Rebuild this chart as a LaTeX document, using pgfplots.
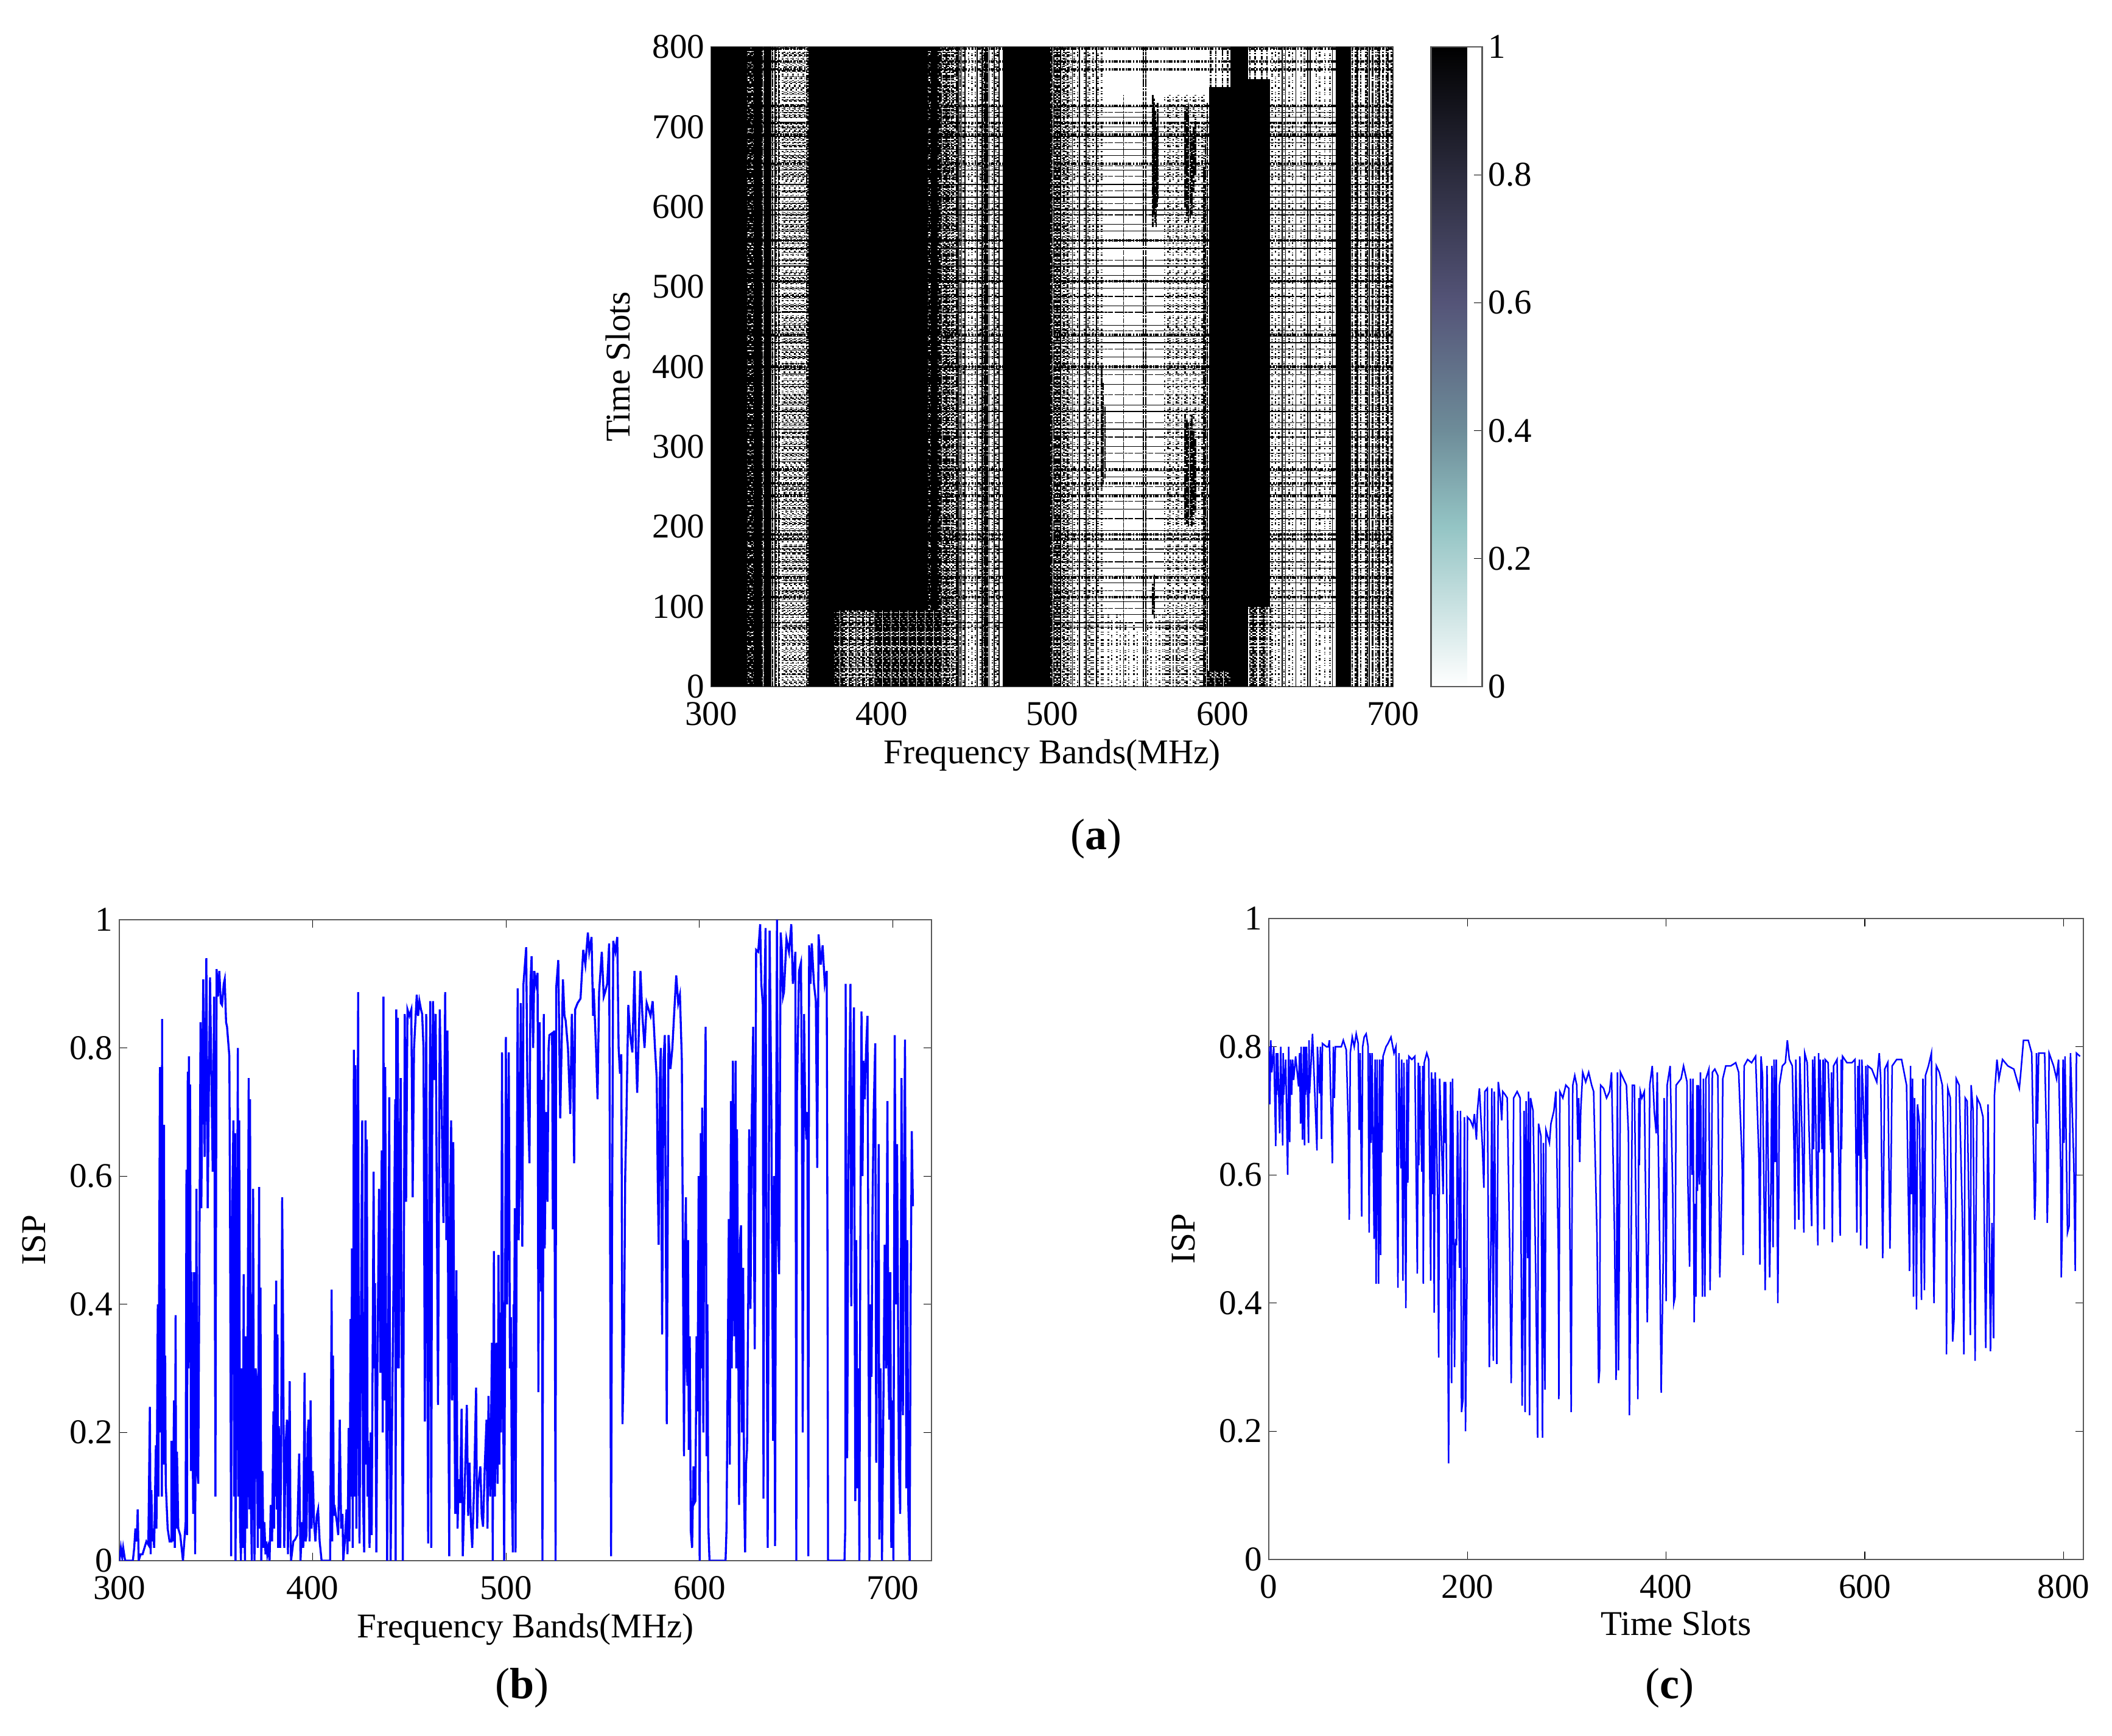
\documentclass[border=0pt]{standalone}
\usepackage{fontspec}
\setmainfont{Liberation Serif}
\usepackage{pgfplots}
\pgfplotsset{compat=1.18}

% 1 reference pixel = 0.24pt
\pgfplotsset{
  colormap={bonerev}{rgb(0pt)=(1,1,1) rgb(25pt)=(.58,.77,.77) rgb(40pt)=(.43,.55,.60) rgb(60pt)=(.33,.33,.47) rgb(80pt)=(.17,.17,.24) rgb(100pt)=(0,0,0)},
  matlab/.style={
    scale only axis, anchor=south west,
    tick align=inside, major tick length=3.2pt,
    tick style={draw=black, line width=.3pt},
    axis line style={draw=black!65, line width=.6pt},
    /pgf/number format/assume math mode=true,
    /pgf/number format/fixed, /pgf/number format/precision=1,
    tick label style={font=\fontsize{13.7}{16}\selectfont},
    label style={font=\fontsize{13.7}{16}\selectfont},
    xticklabel style={yshift=-2.6pt},
    yticklabel style={xshift=1pt},
  },
  vert/.style={ycomb, no marks, black, line width=.62pt},
  hori/.style={xcomb, no marks, black},
  block/.style={fill=black, draw=none, no marks},
  seg/.style={no marks, black, line width=.62pt, unbounded coords=jump},
  s1/.style={dash pattern=on .3pt off .6pt on .2pt off 1.3pt on .5pt off .4pt on .3pt off .9pt on .7pt off 1.6pt},
  s2/.style={dash pattern=on .5pt off 1pt on .3pt off .35pt on .3pt off 2pt on .9pt off .6pt},
  s3/.style={dash pattern=on .25pt off .8pt on .6pt off .3pt on .25pt off 1.5pt on .3pt off .5pt},
  m1/.style={dash pattern=on .9pt off .5pt on .4pt off .3pt on 1.5pt off .7pt on .5pt off .6pt},
  m2/.style={dash pattern=on 1.4pt off .4pt on .5pt off .7pt on .8pt off .35pt on 1.1pt off .8pt},
  d1/.style={dash pattern=on 2.1pt off .3pt on .9pt off .35pt on 3.3pt off .3pt on 1.4pt off .3pt},
  d2/.style={dash pattern=on 1.2pt off .3pt on 2.8pt off .5pt on .7pt off .3pt on 4.1pt off .3pt},
  d3/.style={dash pattern=on 3.7pt off .35pt on 1.1pt off .3pt on 1.9pt off .6pt},
}

\begin{document}
\begin{tikzpicture}
\path[use as bounding box] (0,0) rectangle (832.56pt,684.48pt);

% (a) occupancy map
\begin{axis}[matlab, at={(280.32pt,413.76pt)}, width=268.8pt, height=252.24pt,
  xmin=300, xmax=700, ymin=0, ymax=800,
  xtick={300,400,...,700}, ytick={0,100,...,800},
  xlabel={Frequency Bands(MHz)}, ylabel={Time Slots},
  xlabel style={yshift=1.4pt}, ylabel style={yshift=2pt},
  colormap name=bonerev, point meta min=0, point meta max=1, colorbar,
  colorbar style={at={(parent axis.south east)}, anchor=south west, xshift=6.4pt,
    width=20.16pt, height=252.24pt, ytick={0,.2,...,1}, ytick pos=right,
    yticklabel pos=right, tick align=inside, major tick length=3.2pt,
    axis line style={draw=black!65, line width=.6pt},
    yticklabel style={font=\fontsize{13.7}{16}\selectfont, /pgf/number format/assume math mode=true, /pgf/number format/fixed, /pgf/number format/precision=1, xshift=-1pt}},
]
% horizontal lines, slots that are busy over the whole band
\addplot[hori, line width=.3pt] coordinates {(700,725)(700,712)(700,700)(700,688)(700,672)(700,664)(700,646)(700,628)(700,612)(700,596)(700,578)(700,570)(700,548)(700,526)(700,514)(700,498)(700,476)(700,452)(700,438)(700,430)(700,412)(700,396)(700,378)(700,352)(700,344)(700,322)(700,300)(700,281)(700,262)(700,240)(700,222)(700,195)(700,183)(700,168)(700,148)(700,130)(700,106)(700,90)};
\addplot[hori, d3, line width=.32pt] coordinates {(700,718)(700,694)(700,680)(700,651)(700,638)(700,620)(700,604)(700,590)(700,558)(700,533)(700,507)(700,488)(700,468)(700,445)(700,422)(700,400)(700,390)(700,365)(700,330)(700,312)(700,292)(700,270)(700,250)(700,232)(700,210)(700,190)(700,172)(700,156)(700,138)(700,120)(700,112)(700,98)(700,80)(700,74)};
\addplot[hori, m1, line width=1pt] coordinates {(700,798)(700,782)(700,772)(700,726)(700,705)(700,690)(700,654)(700,558)(700,507)(700,440)(700,400)(700,272)(700,254)(700,238)(700,190)(700,184)(700,136)(700,112)};
% sparse vertical speckle
\addplot[vert, s1] coordinates {(342,800)(345,800)(348,800)(351,800)(354,800)(443,800)(451,800)(458,800)(465,800)(503,800)(508,800)(513,800)(519,800)(524,800)(529,800)(566,740)(571,740)(576,740)(581,740)(586,740)(629,800)(633,800)(641,800)(648,800)(655,800)};
\addplot[vert, s2] coordinates {(343,800)(346,800)(349,800)(352,800)(355,800)(448,800)(455,800)(462,800)(468,800)(505,800)(510,800)(515,800)(521,800)(526,800)(568,740)(573,740)(578,740)(583,740)(588,740)(631,800)(639,800)(646,800)(657,800)};
\addplot[vert, s3] coordinates {(344,800)(347,800)(350,800)(353,800)(356,800)(444,800)(453,800)(460,800)(467,800)(506,800)(511,800)(516,800)(522,800)(527,800)(569,740)(574,740)(579,740)(584,740)(589,740)(636,800)(660,800)(663,800)};
% bottom of the map is broken up into dots
\addplot[vert, s1] coordinates {(505,90)(508,90)(511,90)(519,90)(523,90)(530,90)(533,90)(538,90)(545,70)(550,70)(558,85)(561,90)(565,90)(569,90)(573,90)(577,90)(581,90)(585,90)(589,90)(380,95)(384,95)(388,95)(392,95)};
\addplot[vert, s2] coordinates {(535,85)(540,90)(543,80)(548,80)(556,80)(563,90)(567,90)(571,90)(575,90)(579,90)(583,90)(587,90)};
\addplot[vert, m1] coordinates {(378,95)(382,95)(386,95)(390,95)(394,95)(616,100)(619,100)(622,100)(625,100)(628,100)};
\addplot[vert, m2] coordinates {(379,95)(383,95)(387,95)(391,95)(395,95)(617,100)(620,100)(623,100)(626,100)};
\addplot[vert, d1] coordinates {(372,95)(375,95)(397,95)(400,95)(403,95)(406,95)(409,95)(412,95)(415,95)(592,20)(595,20)(598,20)(601,20)(604,20)(618,100)(624,100)};
\addplot[vert, d2] coordinates {(373,95)(376,95)(398,95)(401,95)(404,95)(407,95)(410,95)(413,95)(416,95)(593,20)(596,20)(599,20)(602,20)};
\addplot[vert, d3] coordinates {(374,95)(377,95)(381,95)(385,95)(389,95)(393,95)(396,95)(399,95)(402,95)(405,95)(408,95)(411,95)(414,95)(417,95)(594,20)(597,20)(600,20)(603,20)};
% thin lines
\addplot[vert, line width=.42pt] coordinates {(337.5,800)(339.5,800)(445,800)(447,800)(449,800)(456,800)(459,800)(461,800)(463,800)(466,800)(469,800)(505,800)(512,800)(516,800)(520,800)(526,800)(635,800)(637,800)(643,800)(650,800)(651.5,800)(664.5,800)(679,800)(686,800)(692,800)};
\addplot[vert, d1, line width=.35pt] coordinates {(553.5,800)(555,800)(542,740)};
% medium and dense speckle
\addplot[vert, m1] coordinates {(338,800)(436,800)(439,800)(441,800)(503,800)(676,800)(681,800)(686,800)(691,800)(696,800)(357,800)(507,800)};
\addplot[vert, m2] coordinates {(340,800)(437,800)(440,800)(442,800)(502,800)(678,800)(684,800)(690,800)(694,800)(699,800)(356,800)(504,800)(509,800)};
\addplot[vert, d1] coordinates {(321,800)(324,800)(327,800)(330,800)(333,800)(336,800)(418,800)(421,800)(424,800)(427,800)(430,800)(433,800)(497,800)(500,800)(679,800)(685,800)(591,730)(445,800)(446,800)};
\addplot[vert, d2] coordinates {(322,800)(325,800)(328,800)(331,800)(334,800)(419,800)(422,800)(425,800)(428,800)(431,800)(434,800)(498,800)(501,800)(688,800)(692,800)(590,700)(444,800)(459,800)};
\addplot[vert, d3] coordinates {(323,800)(326,800)(329,800)(332,800)(335,800)(420,800)(423,800)(426,800)(429,800)(432,800)(435,800)(438,800)(499,800)(697,800)(700,800)(589,650)(460.5,800)(462,800)};
% solid bands
\addplot[block] coordinates {(300,0)(300,800)(321,800)(321,0)} -- cycle;
\addplot[block] coordinates {(325,0)(325,800)(329.5,800)(329.5,0)} -- cycle;
\addplot[block] coordinates {(331,0)(331,800)(335.5,800)(335.5,0)} -- cycle;
\addplot[block] coordinates {(357,0)(357,800)(372,800)(372,0)} -- cycle;
\addplot[block] coordinates {(372,95)(372,800)(417,800)(417,95)} -- cycle;
\addplot[block] coordinates {(417,95)(417,800)(427,800)(427,95)} -- cycle;
\addplot[block] coordinates {(429,95)(429,800)(433,800)(433,95)} -- cycle;
\addplot[block] coordinates {(471,0)(471,800)(499,800)(499,0)} -- cycle;
\addplot[block] coordinates {(592,20)(592,750)(604.5,750)(604.5,20)} -- cycle;
\addplot[block] coordinates {(604.5,0)(604.5,800)(615,800)(615,0)} -- cycle;
\addplot[block] coordinates {(615,100)(615,760)(628,760)(628,100)} -- cycle;
\addplot[block] coordinates {(666.5,0)(666.5,800)(675.5,800)(675.5,0)} -- cycle;
% upper ends of the dark bands and short streaks
\addplot[seg, m1] coordinates {(593,750)(593,800) (nan,nan) (596,750)(596,800) (nan,nan) (600,750)(600,800) (nan,nan) (603,750)(603,800) (nan,nan) (616,760)(616,800) (nan,nan) (619,760)(619,800) (nan,nan) (623,760)(623,800) (nan,nan) (626,760)(626,800)};
\addplot[seg, d1] coordinates {(559,575)(559,740) (nan,nan) (560,590)(560,735) (nan,nan) (561,575)(561,700) (nan,nan) (562,610)(562,730) (nan,nan) (559,90)(559,130) (nan,nan) (560,85)(560,140) (nan,nan) (578,600)(578,720) (nan,nan) (580,580)(580,730) (nan,nan) (582,590)(582,690) (nan,nan) (584,640)(584,710) (nan,nan) (578,210)(578,340) (nan,nan) (580,200)(580,330) (nan,nan) (582,200)(582,340) (nan,nan) (584,220)(584,310) (nan,nan) (529,250)(529,400) (nan,nan) (531,260)(531,350)};
\addplot[seg, d2] coordinates {(559.5,590)(559.5,730) (nan,nan) (560.5,580)(560.5,720) (nan,nan) (561.5,600)(561.5,700) (nan,nan) (579,590)(579,725) (nan,nan) (581,585)(581,700) (nan,nan) (583,620)(583,700) (nan,nan) (579,205)(579,335) (nan,nan) (581,210)(581,330) (nan,nan) (583,215)(583,320) (nan,nan) (530,255)(530,380)};
\end{axis}

% (b) ISP against frequency
\begin{axis}[matlab, at={(47.04pt,69.12pt)}, width=320.16pt, height=252.72pt,
  xmin=300, xmax=720, ymin=0, ymax=1,
  xtick={300,400,...,700}, ytick={0,.2,...,1},
  xlabel={Frequency Bands(MHz)}, ylabel={ISP},
  xlabel style={yshift=1.4pt}, ylabel style={yshift=2.4pt},
]
\addplot[blue, no marks, line width=.8pt] coordinates {
(300,0)(300.8,.02)(301.5,.005)(302,.02)(303,0)(307,0)(307.7,.02)(308.3,.05)(309,.03)(309.5,.08)(310,0)(311,.01)(312,.01)(313,.02)(314,.03)(315,.025)(315.8,.24)(316.2,.01)(316.6,.11)(317,.03)(317.5,.05)(318,.02)(318.9,.18)(319.2,.05)(319.9,.40)(320.2,.10)(321,.77)(321.3,.20)(321.7,.77)(322,.10)(322.1,.845)(322.5,.15)(323.1,.68)(323.4,.15)(323.7,.32)(324,.12)(325,.05)(326,.03)(327,.03)(326.9,.187)(327.5,.03)(328.3,.25)(328.7,.02)(329.1,.383)(329.4,.05)(329.8,.17)(330.5,.05)(331.5,.04)(332.2,.02)(332.9,0)(334.3,.06)(334.7,.61)(335,.04)(335.4,.763)(335.7,.30)(336,.787)(336.3,.45)(336.6,.743)(337,.14)(337.3,.45)(338.2,.073)(338.6,.45)(339.2,.01)(339.9,.58)(340.3,.14)(340.8,.12)(341.3,.40)(342,.84)(342.4,.55)(343.4,.907)(344.1,.63)(345,.94)(345.7,.55)(346.9,.91)(347.4,.80)(348.3,.607)(349,.88)(349.7,.10)(350.3,.923)(351,.88)(351.7,.92)(352.5,.87)(353.1,.867)(354,.90)(354.5,.907)(355.2,.84)(355.7,.833)(356.9,.787)(357.3,.50)(357.8,.007)(358.4,.55)(359,.687)(359.4,.10)(359.9,.667)(360.1,0)(360.7,.35)(361.3,.80)(361.6,.10)(362,.687)(362.4,.05)(362.9,0)(363.3,.30)(363.8,.02)(364.3,.447)(364.6,.05)(365,0)(365.5,.35)(366,.05)(366.9,.753)(367.2,.08)(367.6,.72)(368,.10)(368.5,0)(369.2,.58)(369.6,.10)(369.9,0)(370.5,.30)(371,.28)(371.6,.02)(372.3,.583)(372.7,.05)(373,.426)(373.4,0)(374,.14)(374.5,.02)(375,.06)(375.6,.01)(376,.03)(376.5,.01)(377,.02)(377.7,0)(378.3,.087)(379,.03)(379.7,.233)(380,.05)(380.4,.40)(380.7,.10)(381.1,.437)(381.4,.08)(381.8,.353)(382.1,.02)(382.5,.21)(383.2,.02)(383.7,.18)(384.2,.567)(384.6,.407)(385.3,.02)(386,.18)(386.7,.22)(387.2,.01)(388.1,.28)(388.5,.05)(388.8,0)(390,.03)(390.9,.033)(392,.04)(393,.167)(393.7,0)(394.5,.06)(395.1,.02)(395.8,.293)(396.3,.03)(396.8,.04)(397.4,.20)(397.9,.22)(398.4,.03)(398.9,.25)(399.4,.05)(400,.14)(400.7,.06)(401.4,.03)(402.1,.07)(402.8,.08)(403.6,.03)(404.6,0)(409,0)(409.8,.423)(410.1,.03)(410.5,.32)(410.9,.07)(411.2,.087)(412.5,.06)(413.2,.04)(414,.22)(414.7,.05)(415.4,.073)(415.8,0)(416.6,.03)(417.5,.08)(418,.01)(418.6,.207)(419,.03)(419.6,.377)(420,.10)(420.3,.487)(420.7,.02)(421.3,.797)(421.7,.10)(422.1,.773)(422.6,.05)(423.5,.887)(423.9,.15)(424.2,.027)(425,.40)(425.6,.687)(426,.10)(426.6,.013)(427.3,.687)(427.7,.15)(428,.657)(428.4,.10)(428.7,.187)(429.4,.02)(430,.20)(430.5,.04)(431.5,.607)(431.9,.30)(432.2,.433)(432.9,.013)(433.6,.35)(434.3,.58)(435,.293)(435.7,.64)(436.2,.20)(436.6,.88)(437,.25)(437.5,.77)(438,.30)(438.5,0)(439,.30)(439.6,.723)(440,.20)(440.3,0)(441.5,.35)(442.7,.72)(442.9,0)(443.2,.86)(443.6,.30)(444,.847)(444.5,.30)(445.5,.753)(446,.35)(446.6,0)(447.6,.853)(448.3,.56)(449,.86)(450,.85)(451,.86)(451.7,.567)(452.4,.80)(453.8,.883)(454.5,.85)(455.2,.873)(456,.86)(456.6,.853)(457.3,.80)(458,.217)(458.7,.853)(459.2,.40)(459.7,.027)(460.3,.60)(460.8,.873)(461.3,.02)(461.8,.70)(462.2,.873)(463,.75)(463.6,.853)(464.8,.243)(465.7,.86)(466.7,.70)(467.6,.527)(468.5,.887)(469.1,.50)(469.7,.827)(470.1,.30)(470.6,.007)(471.1,.55)(471.6,.687)(472.1,.25)(472.7,.653)(473.2,.30)(473.7,.073)(474.3,.453)(474.9,.05)(475.5,.127)(476.2,.09)(477,.237)(477.6,.007)(478.5,.10)(479.7,.243)(480.4,.07)(481.1,.153)(481.8,.06)(482.5,.02)(483.5,.12)(484.5,.27)(485,.05)(485.5,.113)(486.7,.147)(487.4,.07)(488.1,.053)(489,.15)(489.9,.22)(490.4,.05)(490.9,.257)(491.8,.10)(492.7,.34)(493.1,0)(493.7,.483)(494.2,.10)(495.1,.34)(495.6,.12)(496.1,.477)(496.5,.15)(496.9,.387)(497.4,.20)(497.9,.793)(498.4,.30)(499,0)(499.4,.30)(499.9,.817)(500.5,.40)(501.4,.793)(502,.30)(502.5,.38)(503,.10)(503.5,.013)(503.9,.40)(504.2,.353)(504.5,.55)(504.9,.013)(505.5,.55)(506,.893)(506.5,.50)(507,.587)(507.6,.87)(508.1,.62)(508.4,.49)(509,.90)(510.4,.957)(511,.75)(512.1,.62)(512.6,.90)(513.2,.943)(514,.80)(514.6,.92)(515.5,.90)(516.3,.917)(516.7,.263)(517.4,.84)(518.1,.42)(518.5,.75)(518.8,0)(519.2,.50)(519.5,.853)(520,.487)(520.7,.70)(521.4,.56)(522,.80)(522.4,.82)(523.8,.823)(524.2,.517)(524.9,.827)(525.3,.30)(525.6,0)(525.9,.893)(527,.937)(528,.69)(529.4,.907)(530.2,.85)(530.8,.843)(532,.80)(533.2,.697)(534,.853)(534.6,.78)(535.2,.62)(535.7,.86)(537,.87)(538.5,.877)(539.9,.953)(541,.93)(542.3,.98)(543,.95)(544.2,.973)(545,.85)(545.3,.893)(546.5,.80)(547.3,.72)(548.1,.887)(549.5,.95)(550.5,.88)(551.2,.887)(552.3,.90)(553.3,.963)(554,.30)(554.3,.007)(554.8,.50)(555.4,.967)(556.5,.95)(557.5,.973)(558.2,.80)(558.9,.76)(559.6,.79)(560.2,.213)(561,.34)(561.6,.60)(562.2,.687)(563.2,.867)(564.2,.82)(565.3,.793)(566.4,.92)(567.1,.80)(567.8,.73)(569.5,.92)(570.5,.85)(571.6,.80)(572.7,.87)(573.7,.86)(574.7,.85)(575.8,.873)(577,.80)(577.9,.753)(578.4,.60)(578.9,.493)(579.5,.75)(580,.80)(580.7,.353)(581.4,.78)(582.1,.82)(583.1,.213)(584,.82)(585,.767)(586,.80)(586.8,.847)(588,.913)(589,.87)(589.9,.883)(590.9,.78)(591.5,.45)(592,.163)(592.6,.50)(593,.567)(593.4,.30)(593.8,.273)(594.1,.50)(594.5,.173)(595,.35)(595.5,.047)(596.2,.02)(596.9,.147)(597.4,.09)(597.9,.093)(598.5,.35)(599,.233)(599.6,.60)(600.1,0)(600.7,.667)(601,.30)(601.4,.707)(602,.20)(602.6,.65)(603.2,.833)(603.7,.163)(604.1,.40)(604.6,.053)(605.2,0)(613.5,0)(614,.05)(615.2,.533)(615.7,.15)(616.3,.717)(616.7,.30)(617.3,.78)(618,.35)(618.7,.78)(619,.30)(619.4,.673)(620,.40)(620.5,.087)(621,.50)(621.5,.523)(622,.20)(622.6,.457)(623.1,.10)(623.6,.013)(624.1,.15)(624.6,.173)(625.2,.40)(625.7,.673)(626.4,.393)(627.1,.70)(627.8,.833)(628.2,.50)(628.6,.33)(629.3,.953)(630.4,.95)(631.4,.993)(632,.90)(632.8,.867)(633.1,.097)(633.7,.90)(634.2,.987)(634.8,.40)(635.3,.02)(635.8,.50)(636.3,.983)(637.2,.70)(638.1,.187)(638.6,.60)(639.1,.023)(639.6,.60)(640.1,1)(640.7,.50)(641.2,.447)(642,.98)(642.6,.953)(643.2,.88)(643.7,.887)(645,.97)(646.3,.95)(647.5,.993)(648.3,.90)(648.9,.92)(649.6,.95)(650.1,0)(650.4,.727)(651.5,.92)(652.5,.933)(653,.70)(653.4,.20)(653.8,.60)(654.1,.853)(654.7,.70)(655.3,.657)(655.8,.70)(656.3,.007)(656.7,.96)(657.4,.90)(658.1,.963)(659.2,.90)(660.2,.873)(660.9,.613)(661.6,.977)(662.7,.93)(663.7,.96)(664.8,.90)(665.8,.92)(666.2,.50)(666.5,0)(675,0)(675.4,.05)(675.6,.90)(676,.40)(676.4,.16)(677,.60)(678.1,.90)(678.5,.397)(679.2,.70)(679.9,.863)(680.3,.40)(680.6,.093)(681.1,.50)(681.7,.113)(682.2,.30)(682.7,0)(683.2,.50)(683.8,.857)(684.3,.60)(684.8,.78)(685.5,.72)(686.2,.80)(686.9,.85)(687.4,.40)(687.9,0)(688.5,.40)(689,.287)(689.5,.55)(690.1,.70)(690.9,.807)(691.4,.153)(691.9,.45)(692.3,.447)(692.7,.65)(693,.033)(693.6,.30)(694.4,0)(695,.20)(695.8,.493)(696.5,.30)(697.2,.717)(697.7,.30)(698.2,.22)(698.7,.45)(699.2,.02)(699.7,.25)(700.3,0)(700.6,.40)(701,.82)(701.6,.40)(702.2,.65)(703.1,.16)(703.8,.073)(704.5,.753)(705.2,.227)(705.8,.60)(706.3,.813)(707,.113)(707.5,.50)(708,.087)(708.7,0)(709.2,.40)(709.8,.67)(710.4,.553)
};
\end{axis}

% (c) ISP against time
\begin{axis}[matlab, at={(500.16pt,69.6pt)}, width=321.12pt, height=252.72pt,
  xmin=0, xmax=820, ymin=0, ymax=1,
  xtick={0,200,...,800}, ytick={0,.2,...,1},
  xlabel={Time Slots}, ylabel={ISP},
  xlabel style={yshift=1.9pt}, ylabel style={yshift=2.4pt},
]
\addplot[blue, no marks, line width=.6pt] coordinates {
(0,.80)(1,.71)(2,.81)(3,.76)(5,.80)(7,.645)(7.5,.79)(8,.725)(9,.79)(11,.665)(12,.80)(14,.646)(14.5,.79)(15,.725)(17,.78)(19,.60)(20,.80)(21,.651)(22,.78)(23,.725)(24,.78)(25,.748)(27,.785)(30,.738)(31,.79)(32,.68)(32.5,.80)(34,.655)(35,.80)(36,.646)(36.5,.80)(37,.725)(38,.80)(40,.65)(40.5,.81)(41,.727)(44,.82)(48.5,.638)(49,.80)(51,.727)(52,.80)(53,.656)(54,.805)(58,.80)(60,.80)(61,.81)(64,.618)(65,.80)(66,.72)(67,.80)(70,.80)(73,.80)(75,.81)(78,.795)(80,.68)(81,.53)(82,.79)(84,.815)(86,.80)(88,.82)(90,.805)(91,.67)(92,.79)(93.5,.535)(94.5,.80)(96,.815)(98,.82)(100,.80)(101,.51)(102,.79)(103,.65)(104,.79)(106,.50)(107,.78)(108,.43)(109,.78)(110.5,.43)(111.5,.78)(112.5,.475)(113.5,.78)(114,.635)(115,.785)(118,.80)(120,.805)(123,.815)(126,.79)(128,.80)(130,.424)(131,.79)(133,.61)(133.8,.78)(135,.435)(136,.775)(138,.392)(139,.78)(140,.588)(141,.785)(144,.78)(147,.785)(149.5,.446)(150.5,.775)(151,.615)(152,.77)(154,.605)(155,.77)(155.5,.43)(156.5,.775)(159,.79)(161,.78)(163,.435)(163.8,.76)(164.5,.57)(165.5,.75)(166.5,.385)(167.5,.76)(170,.56)(171,.315)(172,.75)(175.5,.57)(176.5,.745)(177,.65)(178,.745)(180,.44)(181,.15)(182,.49)(183,.745)(184,.275)(185,.75)(187,.30)(188,.50)(189,.49)(190,.70)(192,.455)(193,.70)(194,.23)(195.5,.25)(196,.46)(197,.69)(198,.20)(199.5,.435)(200,.69)(203,.685)(205.5,.675)(207,.695)(209,.655)(210,.70)(212,.735)(215,.645)(216.5,.58)(217.5,.73)(220,.735)(222,.30)(223.5,.49)(224.5,.735)(226,.31)(227,.73)(229.5,.305)(230,.50)(231,.745)(233,.72)(234.5,.685)(235.5,.73)(238,.725)(240,.72)(242.5,.49)(244,.275)(245.5,.49)(246.5,.72)(250,.73)(253,.72)(255,.24)(256.5,.475)(257,.70)(258,.23)(259,.715)(260.5,.47)(261.5,.73)(262.5,.225)(263.5,.72)(266,.70)(268.7,.45)(270.6,.19)(271.5,.68)(274,.66)(275.5,.19)(276.5,.65)(277,.43)(278,.265)(279,.67)(282.5,.65)(284,.68)(287,.70)(289,.73)(291.5,.475)(292,.25)(293,.73)(296,.72)(299,.74)(302,.735)(304.4,.23)(305,.475)(306,.74)(308,.755)(310,.74)(311,.655)(312,.72)(313,.62)(314,.70)(316,.76)(319,.745)(322,.76)(325,.74)(327,.73)(330.4,.505)(332,.275)(333,.295)(334,.74)(337,.735)(340,.72)(343,.73)(345,.76)(348,.51)(349.6,.28)(351,.76)(352,.295)(353,.52)(354,.76)(357,.75)(360,.74)(362,.665)(363,.225)(364.7,.49)(366,.74)(368,.74)(370,.50)(371.5,.25)(372.5,.72)(373,.615)(374,.73)(375.6,.72)(378,.73)(381,.37)(382.5,.535)(383.5,.74)(386,.77)(388,.70)(390,.665)(391,.76)(393.5,.49)(395,.26)(397,.465)(398,.72)(399,.575)(400,.403)(401,.74)(404,.77)(406.6,.575)(407.7,.40)(409,.41)(410,.74)(415,.75)(417.5,.77)(421,.745)(421.7,.60)(423.6,.457)(424.5,.75)(426,.60)(427,.75)(428.2,.37)(429.3,.555)(430,.41)(431,.74)(431.5,.575)(432.5,.74)(433.5,.585)(434.5,.76)(436.6,.41)(437.5,.75)(438,.575)(439,.41)(440,.75)(443,.765)(444.2,.42)(445.6,.60)(446.5,.76)(449,.765)(452,.755)(454,.44)(456.3,.60)(457,.75)(460,.77)(465,.77)(470,.775)(473,.76)(476.6,.615)(477.5,.475)(478.5,.77)(482,.78)(486,.775)(490,.785)(493.5,.62)(494.4,.46)(495.5,.785)(497,.755)(499.7,.42)(500.5,.60)(501.5,.77)(504.2,.44)(505.6,.605)(506.5,.77)(507.6,.487)(508.6,.78)(509.8,.62)(510.8,.78)(512.4,.40)(513.2,.55)(514,.74)(517,.77)(520,.775)(522,.81)(524,.78)(527,.77)(528.7,.645)(529.6,.515)(530.5,.78)(533.5,.53)(534.5,.785)(537.2,.64)(538.6,.51)(539.5,.79)(542,.775)(546.5,.52)(547.5,.78)(548.4,.64)(549.5,.785)(552.7,.49)(553.5,.79)(554,.635)(555,.78)(556.9,.64)(558,.78)(559.1,.515)(560,.78)(563,.775)(565.9,.635)(566.5,.76)(567.3,.495)(568.5,.77)(572,.78)(575.2,.505)(576.2,.78)(576.6,.64)(577.6,.785)(582,.775)(587,.775)(590,.78)(592,.51)(593,.77)(593.5,.63)(594.5,.78)(595.8,.49)(597,.78)(600.5,.625)(601,.77)(602,.485)(603,.77)(607,.765)(612,.745)(614.5,.79)(616,.75)(618,.47)(619,.61)(620,.765)(623,.775)(625.3,.485)(626.5,.63)(627.5,.77)(632,.78)(637,.78)(642,.74)(645,.45)(646,.77)(647,.57)(648,.75)(649,.41)(650,.72)(651.3,.555)(652,.39)(653,.71)(655,.68)(657,.405)(657.5,.575)(658.5,.75)(659,.575)(660,.42)(661,.755)(664,.77)(667,.79)(669.6,.40)(671,.585)(672,.77)(675,.76)(678,.74)(681.7,.535)(682.2,.32)(683.5,.735)(686,.72)(688.4,.34)(689.8,.375)(691.3,.55)(692,.75)(695,.74)(698.3,.525)(699.7,.32)(701,.72)(703,.715)(704.8,.545)(706.2,.35)(707,.74)(709,.70)(711,.31)(711.8,.525)(713,.72)(716,.71)(719,.69)(721.7,.33)(723,.535)(724,.71)(726.5,.325)(728,.525)(729.6,.345)(730.5,.725)(733,.78)(735,.75)(738.6,.78)(744,.77)(750,.765)(755.5,.735)(757,.76)(759.7,.81)(764.5,.81)(768,.79)(769.6,.66)(771,.53)(771.8,.57)(772.8,.79)(773.8,.68)(775,.79)(778,.79)(781,.79)(783,.65)(783.6,.525)(784.5,.59)(785.5,.79)(790,.77)(793,.75)(795,.78)(797.2,.61)(797.7,.44)(798.6,.50)(799.5,.78)(800.5,.65)(801.5,.785)(804,.51)(805.6,.52)(807,.79)(810.4,.615)(811.8,.45)(813,.79)(816.6,.785)
};
\end{axis}

\node[font=\fontsize{17.3}{20}\selectfont] at (432.2pt,353.8pt) {(\textbf{a})};
\node[font=\fontsize{17.3}{20}\selectfont] at (205.9pt,19pt) {(\textbf{b})};
\node[font=\fontsize{17.3}{20}\selectfont] at (658.3pt,19pt) {(\textbf{c})};
\end{tikzpicture}
\end{document}
